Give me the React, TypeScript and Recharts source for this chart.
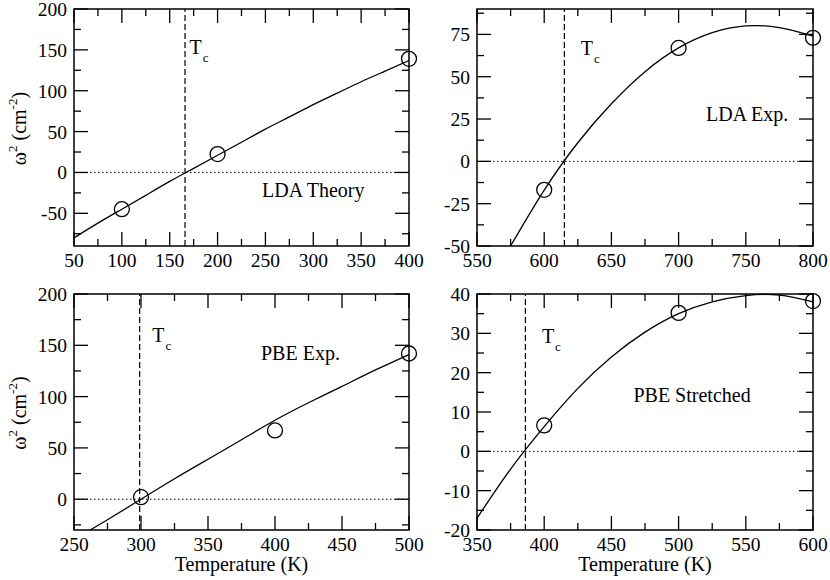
import React from 'react';
import { ComposedChart, Line, Scatter, XAxis, YAxis, ReferenceLine, ReferenceArea, ReferenceDot } from 'recharts';

const W = 830;
const H = 580;
const FONT = '"Liberation Serif", "Times New Roman", serif';

// LDA Theory
const ldaTheoryPtT = [100, 200, 400];
const ldaTheoryPtW = [-45, 22.5, 139];
const ldaTheoryFitT = [50, 75, 100, 125, 150, 175, 200, 225, 250, 275, 300, 325, 350, 375, 400];
const ldaTheoryFitW = [-80, -62, -45, -28, -11, 5, 21, 37, 53, 68, 83, 97, 111, 124, 137];
const ldaTheoryTc = 166;

// LDA Exp.
const ldaExpPtT = [600, 700, 800];
const ldaExpPtW = [-16.8, 67, 73];
const ldaExpFitT = [575, 600, 625, 650, 675, 700, 725, 750, 775, 800];
const ldaExpFitW = [-50, -17, 11, 34, 53, 67, 76, 80, 79, 74];
const ldaExpTc = 615;

// PBE Exp.
const pbeExpPtT = [300, 400, 500];
const pbeExpPtW = [2, 67, 142];
const pbeExpFitT = [262, 275, 300, 325, 350, 375, 400, 425, 450, 475, 500];
const pbeExpFitW = [-30, -20, 0, 20, 39, 58, 77, 94, 110, 126, 141];
const pbeExpTc = 299;

// PBE Stretched
const pbeStrPtT = [400, 500, 600];
const pbeStrPtW = [6.6, 35.2, 38.2];
const pbeStrFitT = [350, 375, 400, 425, 450, 475, 500, 525, 550, 575, 600];
const pbeStrFitW = [-17, -4.5, 6.3, 16, 24, 30.3, 35, 38, 39.6, 39.7, 38];
const pbeStrTc = 386;

// tick labels
const ldaTheoryXMajor = [50, 100, 150, 200, 250, 300, 350, 400];
const ldaTheoryXMinor = [75, 125, 175, 225, 275, 325, 375];
const ldaTheoryYMajor = [-50, 0, 50, 100, 150, 200];
const ldaTheoryYMinor = [-75, -25, 25, 75, 125, 175];

const ldaExpXMajor = [550, 600, 650, 700, 750, 800];
const ldaExpXMinor = [575, 625, 675, 725, 775];
const ldaExpYMajor = [-50, -25, 0, 25, 50, 75];
const ldaExpYMinor = [-37.5, -12.5, 12.5, 37.5, 62.5, 87.5];

const pbeExpXMajor = [250, 300, 350, 400, 450, 500];
const pbeExpXMinor = [275, 325, 375, 425, 475];
const pbeExpYMajor = [0, 50, 100, 150, 200];
const pbeExpYMinor = [-25, 25, 75, 125, 175];

const pbeStrXMajor = [350, 400, 450, 500, 550, 600];
const pbeStrXMinor = [375, 425, 475, 525, 575];
const pbeStrYMajor = [-20, -10, 0, 10, 20, 30, 40];
const pbeStrYMinor = [-15, -5, 5, 15, 25, 35];

const zip = (t: number[], w: number[]) => t.map((v, i) => ({ t: v, w: w[i] }));

type Panel = {
  left: number; right: number; top: number; bottom: number;
  xDomain: [number, number]; yDomain: [number, number];
  xMajor: number[]; xMinor: number[]; yMajor: number[]; yMinor: number[];
  pts: { t: number; w: number }[]; fit: { t: number; w: number }[];
  tc: number; tcDx: number; tcDy: number;
  title: string; titleT: number; titleW: number;
  yTitle: boolean; xTitle: boolean;
};

const panels: Panel[] = [
  {
    left: 74, right: 409, top: 9, bottom: 246,
    xDomain: [50, 400], yDomain: [-90, 200],
    xMajor: ldaTheoryXMajor, xMinor: ldaTheoryXMinor, yMajor: ldaTheoryYMajor, yMinor: ldaTheoryYMinor,
    pts: zip(ldaTheoryPtT, ldaTheoryPtW), fit: zip(ldaTheoryFitT, ldaTheoryFitW),
    tc: ldaTheoryTc, tcDx: 4.5, tcDy: 45,
    title: 'LDA Theory', titleT: 300, titleW: -30,
    yTitle: true, xTitle: false,
  },
  {
    left: 477, right: 813, top: 9, bottom: 246,
    xDomain: [550, 800], yDomain: [-50, 90],
    xMajor: ldaExpXMajor, xMinor: ldaExpXMinor, yMajor: ldaExpYMajor, yMinor: ldaExpYMinor,
    pts: zip(ldaExpPtT, ldaExpPtW), fit: zip(ldaExpFitT, ldaExpFitW),
    tc: ldaExpTc, tcDx: 16.5, tcDy: 46,
    title: 'LDA Exp.', titleT: 751, titleW: 24,
    yTitle: false, xTitle: false,
  },
  {
    left: 74, right: 409, top: 294, bottom: 530,
    xDomain: [250, 500], yDomain: [-30, 200],
    xMajor: pbeExpXMajor, xMinor: pbeExpXMinor, yMajor: pbeExpYMajor, yMinor: pbeExpYMinor,
    pts: zip(pbeExpPtT, pbeExpPtW), fit: zip(pbeExpFitT, pbeExpFitW),
    tc: pbeExpTc, tcDx: 12.5, tcDy: 48,
    title: 'PBE Exp.', titleT: 419, titleW: 136,
    yTitle: true, xTitle: true,
  },
  {
    left: 477, right: 813, top: 294, bottom: 530,
    xDomain: [350, 600], yDomain: [-20, 40],
    xMajor: pbeStrXMajor, xMinor: pbeStrXMinor, yMajor: pbeStrYMajor, yMinor: pbeStrYMinor,
    pts: zip(pbeStrPtT, pbeStrPtW), fit: zip(pbeStrFitT, pbeStrFitW),
    tc: pbeStrTc, tcDx: 16.5, tcDy: 49,
    title: 'PBE Stretched', titleT: 510, titleW: 12.6,
    yTitle: false, xTitle: true,
  },
];

const sorted = (a: number[], b: number[]) => [...a, ...b].sort((m, n) => m - n);

const Circle = (props: any) => (
  <circle cx={props.cx} cy={props.cy} r={7.5} fill="none" stroke="#000" strokeWidth={1.3} />
);

const PanelChart = ({ p }: { p: Panel }) => {
  const pw = p.right - p.left;
  const ph = p.bottom - p.top;

  // ticks point inward and are mirrored on the opposite side of the frame
  const yTick = (props: any) => {
    const { x, y, payload } = props;
    const major = p.yMajor.includes(payload.value);
    const len = major ? 14 : 7;
    return (
      <g>
        <line x1={x} y1={y} x2={x + len} y2={y} stroke="#000" strokeWidth={1.3} />
        <line x1={x + pw} y1={y} x2={x + pw - len} y2={y} stroke="#000" strokeWidth={1.3} />
        {major && (
          <text x={x - 7} y={y + 7} textAnchor="end" fontSize={19.5} fontFamily={FONT} fill="#000">
            {String(payload.value)}
          </text>
        )}
      </g>
    );
  };

  const xTick = (props: any) => {
    const { x, y, payload } = props;
    const major = p.xMajor.includes(payload.value);
    const len = major ? 14 : 7;
    return (
      <g>
        <line x1={x} y1={y} x2={x} y2={y - len} stroke="#000" strokeWidth={1.3} />
        <line x1={x} y1={y - ph} x2={x} y2={y - ph + len} stroke="#000" strokeWidth={1.3} />
        {major && (
          <text x={x} y={y + 21} textAnchor="middle" fontSize={19.5} fontFamily={FONT} fill="#000">
            {String(payload.value)}
          </text>
        )}
      </g>
    );
  };

  const yTitle = () => {
    const cx = 26;
    const cy = p.top + ph / 2 + 1;
    return (
      <text x={cx} y={cy} textAnchor="middle" fontSize={20} fontFamily={FONT} fill="#000"
        transform={`rotate(-90, ${cx}, ${cy})`}>
        ω<tspan fontSize={13} dy={-9}>2</tspan>
        <tspan dy={9}> (cm</tspan>
        <tspan fontSize={13} dy={-9}>-2</tspan>
        <tspan dy={9}>)</tspan>
      </text>
    );
  };

  const xTitle = () => (
    <text x={p.left + pw / 2} y={p.bottom + 41} textAnchor="middle" fontSize={20} fontFamily={FONT} fill="#000">
      Temperature (K)
    </text>
  );

  const tcLabel = (props: any) => {
    const vb = props.viewBox || {};
    return (
      <text x={vb.x + p.tcDx} y={vb.y + p.tcDy} fontSize={20} fontFamily={FONT} fill="#000">
        T<tspan fontSize={13} dy={8} dx={1}>c</tspan>
      </text>
    );
  };

  const titleLabel = (props: any) => {
    const vb = props.viewBox || {};
    return (
      <text x={vb.x + (vb.width || 0) / 2} y={vb.y + (vb.height || 0) / 2} textAnchor="middle"
        fontSize={20} fontFamily={FONT} fill="#000">
        {p.title}
      </text>
    );
  };

  return (
    <div style={{ position: 'absolute', left: 0, top: 0 }}>
      <ComposedChart
        width={W}
        height={H}
        margin={{ top: p.top, left: p.left - 1, right: W - p.right, bottom: H - p.bottom - 1 }}
      >
        <XAxis
          type="number"
          dataKey="t"
          domain={p.xDomain}
          ticks={sorted(p.xMajor, p.xMinor)}
          interval={0}
          height={1}
          tickSize={0}
          tickMargin={0}
          tickLine={false}
          axisLine={false}
          tick={xTick}
          label={p.xTitle ? { content: xTitle } : undefined}
        />
        <YAxis
          type="number"
          dataKey="w"
          domain={p.yDomain}
          ticks={sorted(p.yMajor, p.yMinor)}
          interval={0}
          width={1}
          tickSize={0}
          tickMargin={0}
          tickLine={false}
          axisLine={false}
          tick={yTick}
          label={p.yTitle ? { content: yTitle } : undefined}
        />
        <ReferenceArea
          x1={p.xDomain[0]} x2={p.xDomain[1]} y1={p.yDomain[0]} y2={p.yDomain[1]}
          fill="none" fillOpacity={0} stroke="#000" strokeWidth={1.5}
        />
        <ReferenceLine y={0} stroke="#000" strokeWidth={1} strokeDasharray="1.5 2.5" />
        <ReferenceLine x={p.tc} stroke="#000" strokeWidth={1.2} strokeDasharray="6 3" label={{ content: tcLabel }} />
        <ReferenceDot x={p.titleT} y={p.titleW} r={1} fill="none" stroke="none" label={{ content: titleLabel }} />
        <Line
          data={p.fit}
          dataKey="w"
          type="natural"
          dot={false}
          stroke="#000"
          strokeWidth={1.3}
          isAnimationActive={false}
        />
        <Scatter data={p.pts} dataKey="w" shape={Circle} isAnimationActive={false} />
      </ComposedChart>
    </div>
  );
}

export default function App() {
  return (
    <div style={{ position: 'absolute', left: 0, top: 0, width: W, height: H, background: '#fff', overflow: 'hidden' }}>
      {panels.map((p, i) => (
        <PanelChart key={i} p={p} />
      ))}
    </div>
  );
}
